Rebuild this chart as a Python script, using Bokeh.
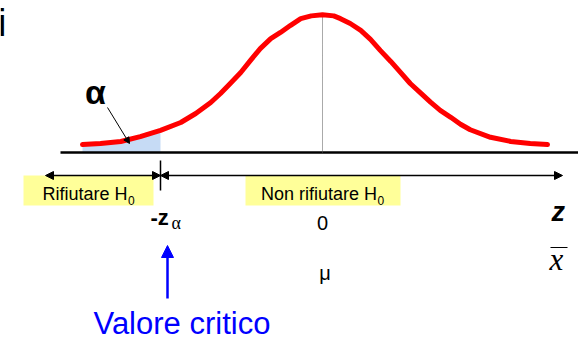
from bokeh.plotting import figure
from bokeh.models import Range1d, Arrow, NormalHead
from bokeh.core.properties import value
from bokeh.embed import file_html
from bokeh.resources import INLINE

# Standard normal density, sampled along the z axis
z_vals = [-3.20, -2.96, -2.69, -2.43, -2.16, -1.89, -1.69, -1.49, -1.36, -1.23,
          -1.09, -0.96, -0.83, -0.69, -0.56, -0.43, -0.29, -0.15, 0.00, 0.15,
          0.24, 0.37, 0.51, 0.64, 0.77, 0.91, 1.04, 1.17, 1.31, 1.44,
          1.57, 1.71, 1.84, 1.97, 2.24, 2.51, 2.77, 3.00]
density = [0.023, 0.026, 0.032, 0.046, 0.064, 0.087, 0.113, 0.145, 0.171, 0.200,
           0.232, 0.267, 0.301, 0.330, 0.348, 0.368, 0.388, 0.396, 0.399, 0.396,
           0.388, 0.374, 0.354, 0.328, 0.296, 0.264, 0.232, 0.200, 0.172, 0.146,
           0.122, 0.102, 0.082, 0.066, 0.044, 0.032, 0.026, 0.023]

# Critical value of the left-tailed test
z_crit = -2.16
region_labels = ["Rifiutare H", "Non rifiutare H"]
axis_labels = ["0", "\u03bc"]

W, H = 578, 337
PX_PER_Z = 75.0      # screen pixels per z unit
PX_PER_DEN = 345.0   # screen pixels per density unit
X_MID, Y_BASE = 322, 152


def X(px):
    return (px - X_MID) / PX_PER_Z


def Y(py):
    return (Y_BASE - py) / PX_PER_DEN


p = figure(width=W, height=H, x_range=Range1d(X(0), X(W)), y_range=Range1d(Y(H), Y(0)),
           x_axis_type=None, y_axis_type=None, min_border=0, toolbar_location=None,
           output_backend="svg", outline_line_color=None,
           background_fill_color="white", border_fill_color="white")

SANS = value("Liberation Sans")
SERIF = value("Liberation Serif")


def label(x, base_px, s, size, color="black", font=SANS, style="normal", align="left"):
    # base_px: screen row of the text baseline; nudged for the text box offset
    px_size = float(size.replace("px", ""))
    p.text(x=[x], y=[Y(base_px - 0.25 * px_size)], text=[s], text_font=font,
           text_font_size=size, text_font_style=style, text_color=color,
           text_align=align, text_baseline="alphabetic")


# clipped title letter at the top-left
label(X(-2.5), 32, "i", "38px")

# shaded rejection tail (alpha)
tail_z = [z for z in z_vals if z <= z_crit]
tail_d = [d for z, d in zip(z_vals, density) if z <= z_crit]
p.varea(x=tail_z, y1=[0] * len(tail_z), y2=tail_d, fill_color="#c6dbf5")

# baseline
p.segment(x0=[X(60)], y0=[0], x1=[X(W)], y1=[0], line_color="black", line_width=2.5)

# dotted line at the mean
p.segment(x0=[0], y0=[0], x1=[0], y1=[max(density)], line_color="#555555",
          line_width=1, line_dash="1 1")

# density curve
p.line(z_vals, density, line_color="#ff0000", line_width=5,
       line_cap="round", line_join="round")

# alpha label with pointer
label(X(95), 100, "\u03b1", "34px", style="bold", align="center")
p.add_layout(Arrow(end=NormalHead(size=6, fill_color="black", line_color="black"),
                   x_start=X(107), y_start=Y(107), x_end=X(129), y_end=Y(143),
                   line_color="black", line_width=1))

# tick at the critical value
p.segment(x0=[z_crit], y0=[Y(160)], x1=[z_crit], y1=[Y(190)],
          line_color="black", line_width=1.5)

# region boxes
p.quad(left=[X(23), X(245)], right=[X(153), X(400)], top=[Y(175), Y(175)],
       bottom=[Y(205), Y(205)], fill_color="#ffff99", line_color=None)

# double arrows for the two regions
for xs, xe in [(X(45), z_crit), (z_crit, X(562))]:
    p.add_layout(Arrow(start=NormalHead(size=8, fill_color="black", line_color="black"),
                       end=NormalHead(size=8, fill_color="black", line_color="black"),
                       x_start=xs, y_start=Y(175), x_end=xe, y_end=Y(175),
                       line_color="black", line_width=1.5))

# region texts with subscript 0
label(X(42), 198, region_labels[0], "18px")
label(X(127.5), 203, "0", "12px")
label(X(260.5), 198, region_labels[1], "18px")
label(X(377), 203, "0", "12px")

# -z_alpha
label(X(150), 222, "-z", "22px", style="bold")
label(X(171), 227, "\u03b1", "18px", font=SERIF)

# 0 and mu
label(0, 227, axis_labels[0], "20px", align="center")
label(X(324.5), 277, axis_labels[1], "20px", align="center")

# z and x-bar on the right
label(X(551), 218, "z", "27px", style="bold italic")
label(X(549), 267, "x", "31px", font=SERIF, style="italic")
p.segment(x0=[X(550)], y0=[Y(247)], x1=[X(567)], y1=[Y(247)],
          line_color="black", line_width=1.2)

# critical value pointer
p.add_layout(Arrow(end=NormalHead(size=12, fill_color="#0000ff", line_color="#0000ff"),
                   x_start=X(167), y_start=Y(298), x_end=X(167), y_end=Y(245),
                   line_color="#0000ff", line_width=2.5))
label(X(93), 331, "Valore critico", "31px", color="#0000ff")

open("out.html", "w").write(file_html(p, INLINE))
